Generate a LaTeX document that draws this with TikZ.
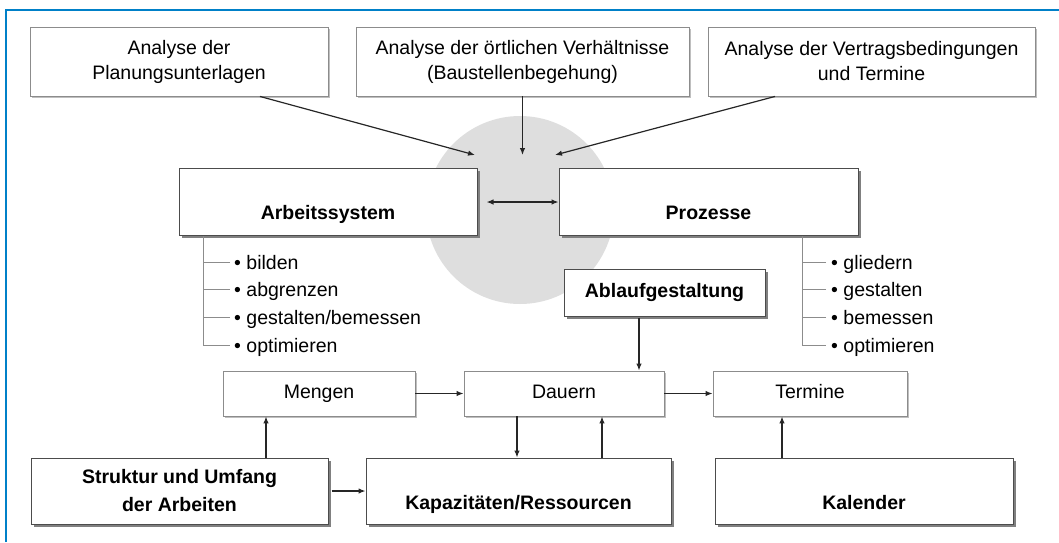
\documentclass[tikz,border=0pt]{standalone}
\usepackage{fontspec}
\setmainfont{Liberation Sans}
\usetikzlibrary{arrows.meta,shadows}
\definecolor{frameblue}{RGB}{0,128,200}
\definecolor{circgray}{RGB}{222,222,222}
\begin{document}
\begin{tikzpicture}[x=1pt,y=-1pt,
  txt/.style={font=\fontsize{19.5}{25}\selectfont, align=center, inner sep=0pt},
  btxt/.style={txt, font=\fontsize{19.5}{28}\selectfont\bfseries},
  one/.style={text height=14pt, text depth=4pt},
  lightbox/.style={txt, draw=black!45, line width=0.9pt, fill=white,
    general shadow={fill=black!25, shadow xshift=1.5pt, shadow yshift=-1.5pt}},
  boldbox/.style={btxt, draw=black!70, line width=1pt, fill=white,
    general shadow={fill=black!50, shadow xshift=3pt, shadow yshift=-3pt}},
  arr/.style={-{Latex[length=7pt,width=5.5pt]}, line width=1.2pt, draw=black!85},
  dblarr/.style={{Latex[length=7pt,width=5.5pt]}-{Latex[length=7pt,width=5.5pt]}, line width=1.2pt, draw=black!85},
  tree/.style={draw=black!45, line width=0.9pt},
  item/.style={txt, anchor=base west}
]
\useasboundingbox (0,0) rectangle (1059,542);
\draw[frameblue, line width=1.6pt] (6,542) -- (6,10) -- (1059,10);

% circle
\node[circle, fill=circgray, minimum size=188pt, inner sep=0pt] (circ) at (520,210) {};

% top analysis boxes
\node[lightbox, minimum width=298pt, minimum height=69pt] (a1) at (179,61.5) {Analyse der\\Planungsunterlagen};
\node[lightbox, minimum width=333pt, minimum height=69pt] (a2) at (522.5,61.5) {Analyse der örtlichen Verhältnisse\\(Baustellenbegehung)};
\node[lightbox, minimum width=327pt, minimum height=69pt] (a3) at (871.5,61.5) {Analyse der Vertragsbedingungen\\und Termine};

% main boxes
\node[boldbox, minimum width=298pt, minimum height=67pt] (arb) at (328,201.5) {};
\node[btxt, one] (tarb) at (328,214) {Arbeitssystem};
\node[boldbox, minimum width=299pt, minimum height=67pt] (proz) at (708.5,201.5) {};
\node[btxt, one] (tproz) at (708.5,214) {Prozesse};
\node[boldbox, one, minimum width=201pt, minimum height=47pt] (ablauf) at (664.5,292.5) {Ablaufgestaltung};

% middle row
\node[lightbox, one, minimum width=192pt, minimum height=45pt] (mengen) at (319,393.5) {Mengen};
\node[lightbox, one, minimum width=200pt, minimum height=45pt] (dauern) at (564,393.5) {Dauern};
\node[lightbox, one, minimum width=194pt, minimum height=45pt] (termine) at (810,393.5) {Termine};

% bottom row
\node[boldbox, minimum width=297pt, minimum height=66pt] (struktur) at (179.5,491) {Struktur und Umfang\\der Arbeiten};
\node[boldbox, minimum width=305pt, minimum height=66pt] (kap) at (518.5,491) {};
\node[btxt, one] (tkap) at (518.5,504) {Kapazitäten/Ressourcen};
\node[boldbox, minimum width=298pt, minimum height=66pt] (kal) at (864,491) {};
\node[btxt, one] (tkal) at (864,504) {Kalender};

% arrows into circle
\coordinate (c1) at (475,155);
\coordinate (c2) at (522.5,155);
\coordinate (c3) at (555,155);
\draw[arr] ([xshift=81pt]a1.south) -- (c1);
\draw[arr] (a2.south) -- (c2);
\draw[arr] ([xshift=-96.5pt]a3.south) -- (c3);
\draw[dblarr] ([xshift=9pt,yshift=-0.5pt]arb.east) -- ([yshift=-0.5pt]proz.west);

% left list
\node[item] (l1) at (234,269) {\textbullet\ bilden};
\node[item] (l2) at (234,296.5) {\textbullet\ abgrenzen};
\node[item] (l3) at (234,324) {\textbullet\ gestalten/bemessen};
\node[item] (l4) at (234,352) {\textbullet\ optimieren};
\coordinate (lv) at ([xshift=-125pt]arb.south);
\coordinate (lt1) at (230,262);
\coordinate (lt2) at (230,289.5);
\coordinate (lt3) at (230,317);
\coordinate (lt4) at (230,345);
\draw[tree] (lv) |- (lt4);
\draw[tree] (lt1) -- (lt1 -| lv);
\draw[tree] (lt2) -- (lt2 -| lv);
\draw[tree] (lt3) -- (lt3 -| lv);

% right list
\node[item] (r1) at (831,269) {\textbullet\ gliedern};
\node[item] (r2) at (831,296.5) {\textbullet\ gestalten};
\node[item] (r3) at (831,324) {\textbullet\ bemessen};
\node[item] (r4) at (831,352) {\textbullet\ optimieren};
\coordinate (rv) at ([xshift=93.5pt]proz.south);
\coordinate (rt1) at (826,262);
\coordinate (rt2) at (826,289.5);
\coordinate (rt3) at (826,317);
\coordinate (rt4) at (826,345);
\draw[tree] (rv) |- (rt4);
\draw[tree] (rt1) -- (rt1 -| rv);
\draw[tree] (rt2) -- (rt2 -| rv);
\draw[tree] (rt3) -- (rt3 -| rv);

% lower arrows
\coordinate (ab1) at ([xshift=-25.5pt]ablauf.south);
\draw[arr] ([yshift=-1pt]ab1) -- (ab1 |- dauern.north);
\draw[arr] (mengen.east) -- (dauern.west);
\draw[arr] (dauern.east) -- (termine.west);
\coordinate (s1) at ([xshift=86.5pt]struktur.north);
\draw[arr] (s1) -- (s1 |- mengen.south);
\draw[arr] ([xshift=3pt]struktur.east) -- (kap.west);
\coordinate (k1) at ([xshift=-1.5pt]kap.north);
\draw[arr] (k1 |- dauern.south) -- (k1);
\coordinate (k2) at ([xshift=83.5pt]kap.north);
\draw[arr] (k2) -- (k2 |- dauern.south);
\coordinate (kl) at ([xshift=-82pt]kal.north);
\draw[arr] (kl) -- (kl |- termine.south);
\end{tikzpicture}
\end{document}
